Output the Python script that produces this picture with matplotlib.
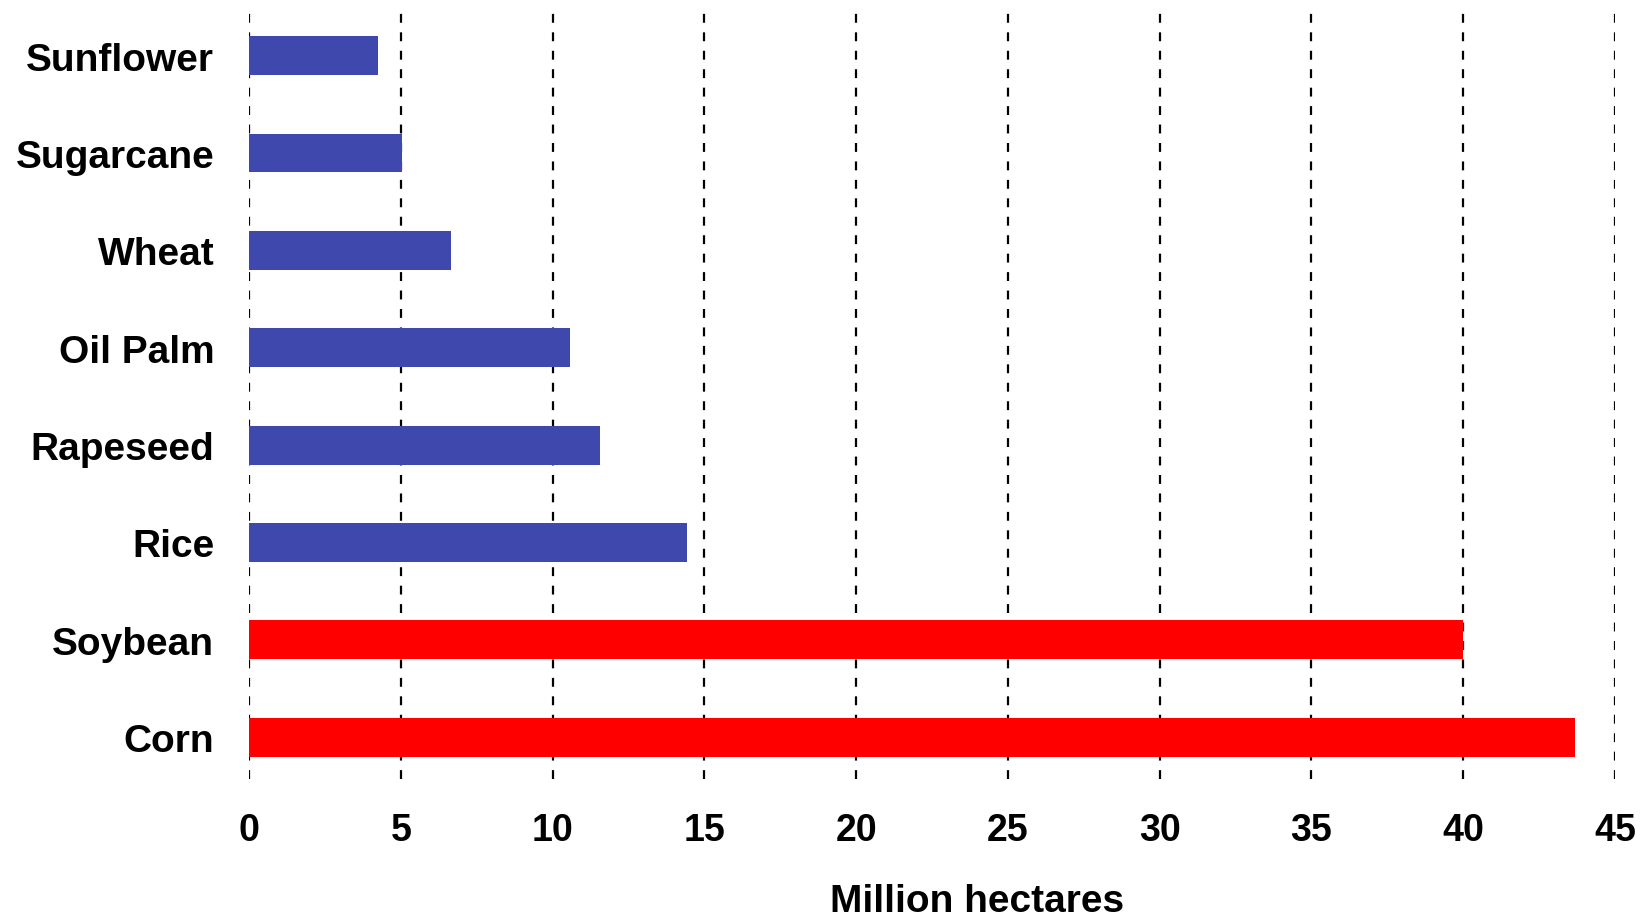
import matplotlib
matplotlib.use('Agg')
import matplotlib.pyplot as plt

# 作物名称（自下而上）与面积（百万公顷）
crops = ['Corn', 'Soybean', 'Rice', 'Rapeseed', 'Oil Palm', 'Wheat', 'Sugarcane', 'Sunflower']
areas = [43.68, 40.0, 14.43, 11.56, 10.56, 6.65, 5.05, 4.26]
colors = ['#FF0000', '#FF0000', '#3F48AD', '#3F48AD', '#3F48AD', '#3F48AD', '#3F48AD', '#3F48AD']
xticks = [0, 5, 10, 15, 20, 25, 30, 35, 40, 45]

plt.rcParams['font.family'] = ['Liberation Sans', 'DejaVu Sans']
plt.rcParams['font.weight'] = 'bold'

fig = plt.figure(figsize=(16.48, 9.2), dpi=100)
ax = fig.add_axes([249 / 1648, 1 - 780 / 920, (1615 - 249) / 1648, (780 - 8) / 920])

ax.barh(range(len(crops)), areas, height=0.4, color=colors, zorder=2)

ax.set_xlim(0, 45)
ax.set_ylim(-0.43, 7.5)
ax.set_xticks(xticks)
ax.set_yticks(range(len(crops)))
ax.set_yticklabels(crops)

# 竖直虚线网格
for x in xticks:
    ax.axvline(x, color='black', lw=1.6, linestyle=(0, (4.0, 4.3)), zorder=1)

for s in ax.spines.values():
    s.set_visible(False)

ax.tick_params(axis='x', length=0, labelsize=27, pad=24)
ax.tick_params(axis='y', length=0, labelsize=28, pad=25)
for lab in ax.get_xticklabels() + ax.get_yticklabels():
    lab.set_fontweight('bold')

ax.set_xlabel('Million hectares', fontsize=28, fontweight='bold', va='center')
ax.xaxis.set_label_coords(0.533, -0.158)

fig.savefig('out.png', dpi=100)
